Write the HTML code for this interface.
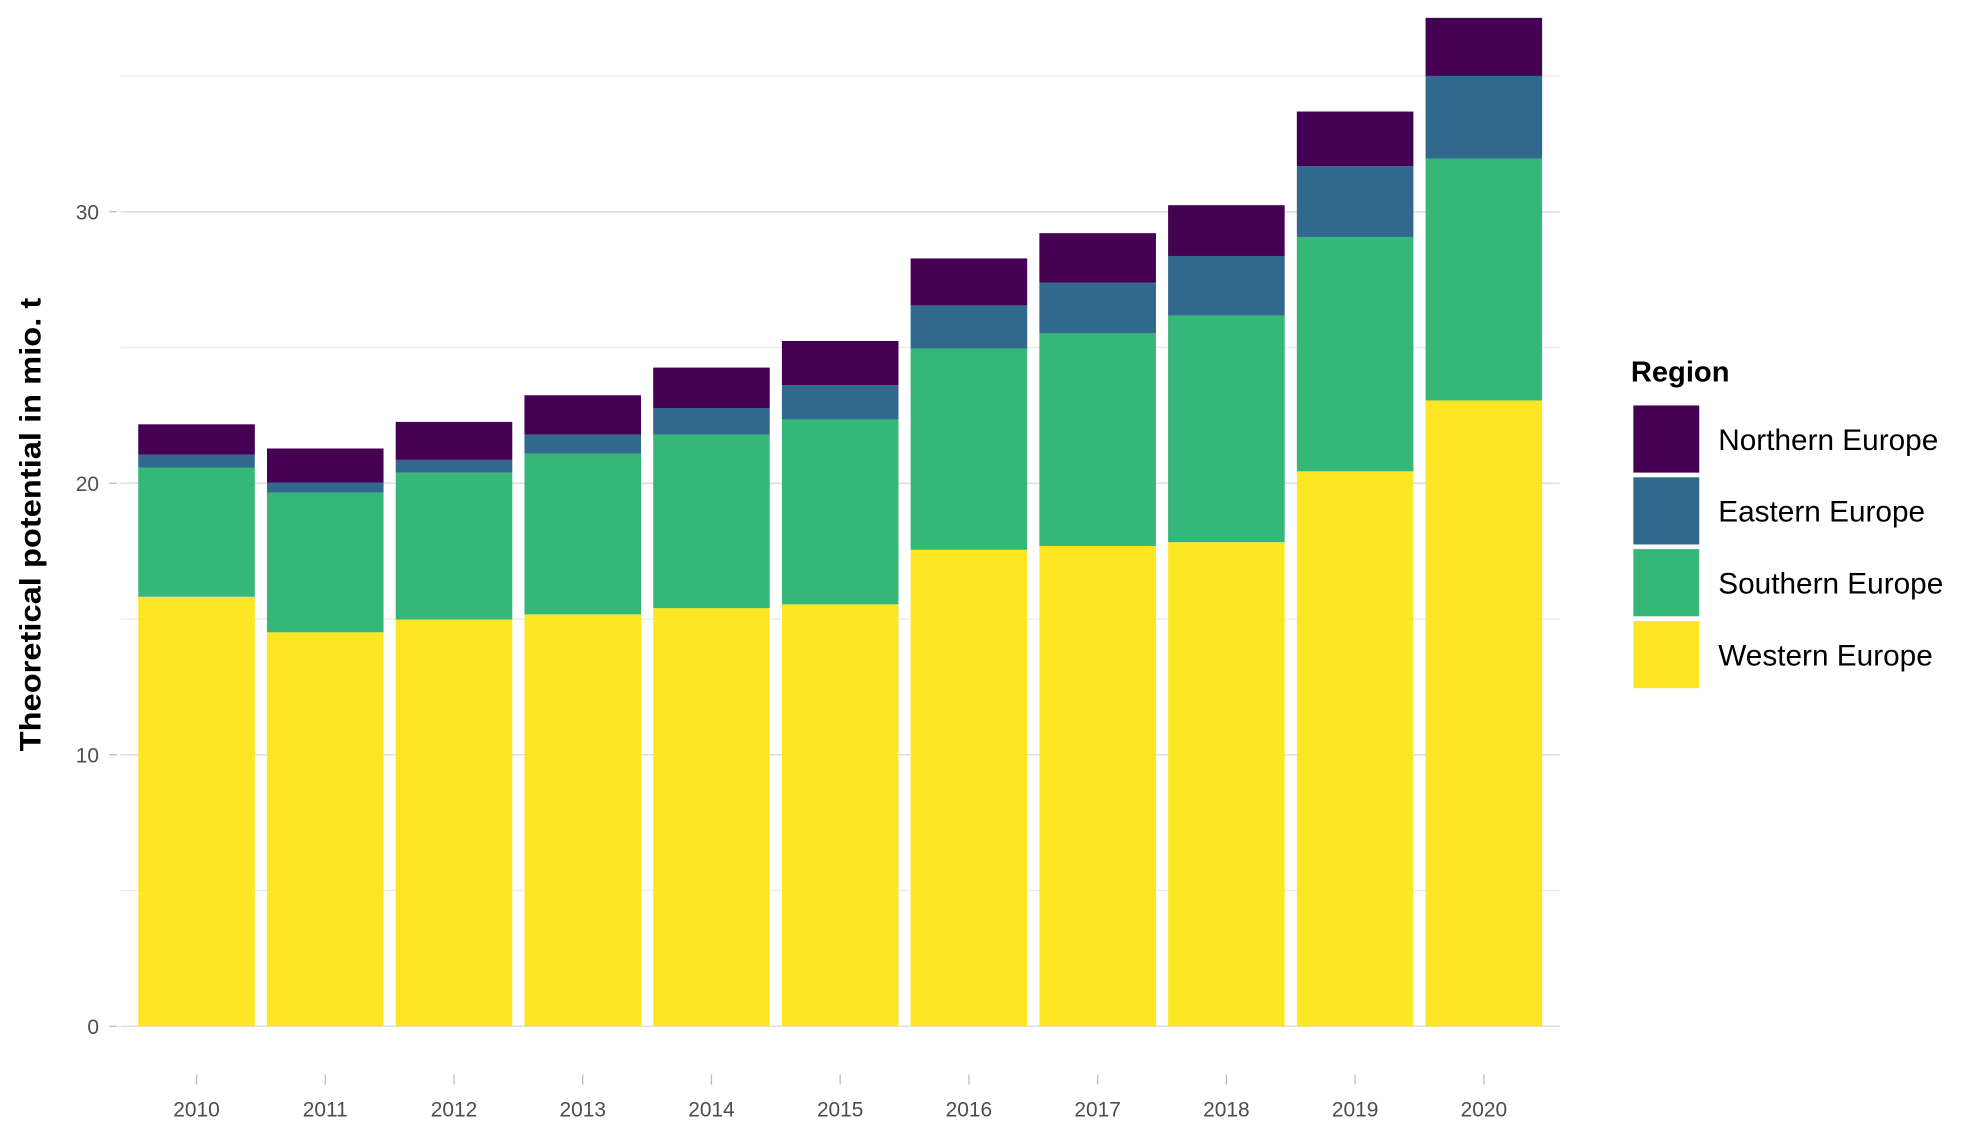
<!DOCTYPE html>
<html><head><meta charset="utf-8"><style>html,body{margin:0;padding:0;background:#fff}svg{display:block}</style></head>
<body>
<svg id="chart" width="1987" height="1134" viewBox="0 0 1568 895" xmlns="http://www.w3.org/2000/svg" font-family="Liberation Sans, sans-serif">
<g id="grid"></g>
<g id="bars"></g>
<g id="axes"></g>
<text transform="translate(32,414) rotate(-90)" text-anchor="middle" font-size="23.5" font-weight="bold" fill="#000" textLength="358" lengthAdjust="spacingAndGlyphs">Theoretical potential in mio. t</text>
<g id="legend">
<text x="1287" y="301" font-size="23" font-weight="bold" fill="#000">Region</text>
</g>
</svg>
<script>
const years = ["2010","2011","2012","2013","2014","2015","2016","2017","2018","2019","2020"];
const western  = [15.82,14.51,14.98,15.17,15.40,15.54,17.55,17.69,17.83,20.44,23.05];
const southern = [4.76,5.14,5.41,5.92,6.39,6.81,7.41,7.83,8.35,8.63,8.91];
const eastern  = [0.47,0.37,0.47,0.70,0.98,1.26,1.59,1.87,2.19,2.61,3.04];
const northern = [1.12,1.26,1.40,1.45,1.49,1.63,1.73,1.82,1.87,2.01,2.14];
const yTicks = [0,10,20,30];
const yMinor = [5,15,25,35];
const regions = ["Northern Europe","Eastern Europe","Southern Europe","Western Europe"];
const colors = {"Northern Europe":"#440154","Eastern Europe":"#31688e","Southern Europe":"#35b779","Western Europe":"#fde725"};
const NS="http://www.w3.org/2000/svg";
const y = v => 810 - v*21.43;
const x = i => 155 + i*101.6;
const bw = 92;
function mk(tag, attrs, parent){const e=document.createElementNS(NS,tag);for(const k in attrs)e.setAttribute(k,attrs[k]);parent.appendChild(e);return e;}
const grid=document.getElementById('grid'), bars=document.getElementById('bars'), axes=document.getElementById('axes'), legend=document.getElementById('legend');
yMinor.forEach(v=>{const l=mk('line',{x1:95,x2:1231,y1:y(v),y2:y(v),stroke:'#ebebeb','stroke-width':1},grid);

});
yTicks.forEach(v=>{const l=mk('line',{x1:95,x2:1231,y1:y(v),y2:y(v),stroke:'#dedede','stroke-width':1.2},grid);


const tk=mk('line',{x1:86,x2:92,y1:y(v),y2:y(v),stroke:'#bbb','stroke-width':1},axes);


const t=mk('text',{x:78,y:y(v)+6,'text-anchor':'end','font-size':16.5,fill:'#4d4d4d'},axes);t.textContent=v;

});
const series=[["Western Europe",western],["Southern Europe",southern],["Eastern Europe",eastern],["Northern Europe",northern]];
years.forEach((yr,i)=>{let base=0;
series.forEach(([name,arr])=>{const v=arr[i];const r=mk('rect',{x:x(i)-bw/2,y:y(base+v),width:bw,height:y(base)-y(base+v),fill:colors[name]},bars);


base+=v;});
const tk=mk('line',{x1:x(i),x2:x(i),y1:848,y2:856,stroke:'#bbb','stroke-width':1},axes);


const t=mk('text',{x:x(i),y:881,'text-anchor':'middle','font-size':16.5,fill:'#4d4d4d'},axes);t.textContent=yr;

});
regions.forEach((name,k)=>{const ky=320+k*56.7;
const r=mk('rect',{x:1289,y:ky,width:52,height:53,fill:colors[name]},legend);


const t=mk('text',{x:1356,y:ky+35,'font-size':23.5,fill:'#000'},legend);t.textContent=name;

});
</script>
</body></html>
